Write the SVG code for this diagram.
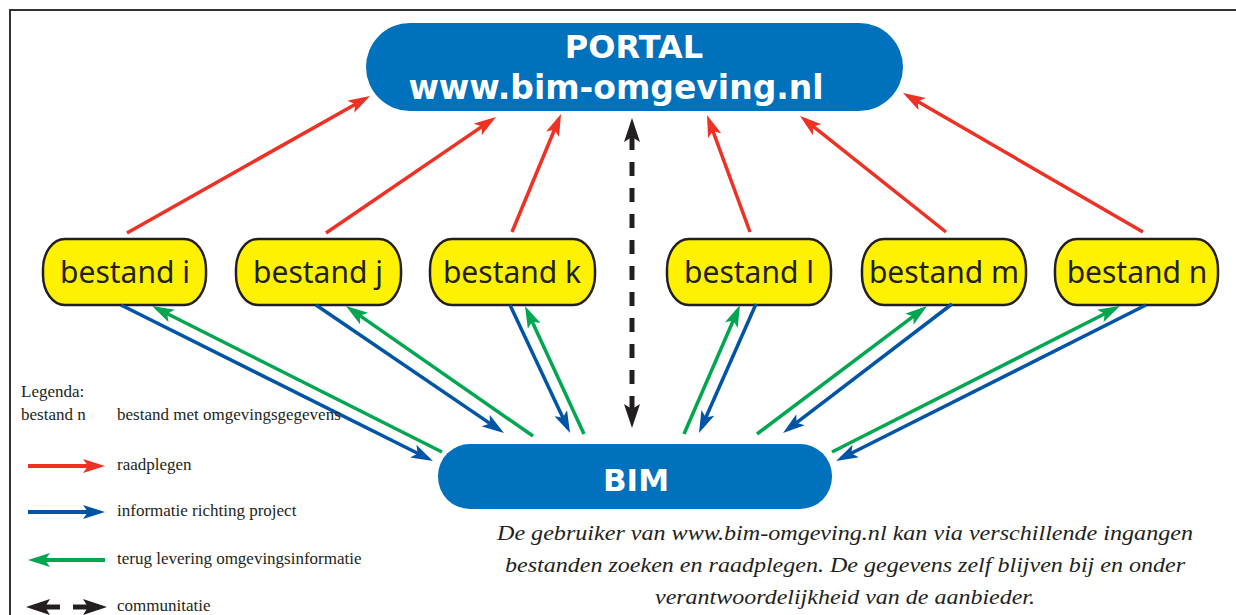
<svg xmlns="http://www.w3.org/2000/svg" width="1236" height="615" viewBox="0 0 1236 615">
<style>
.frame{fill:none;stroke:#333;stroke-width:2}
.pill{fill:#0071bc}
.ptxt{fill:#fff;font-family:"DejaVu Sans",sans-serif;font-weight:bold;text-anchor:middle}
.bnode{fill:#fff200;stroke:#231f20;stroke-width:2.5}
.btxt{fill:#231f20;font-family:"Noto Sans",sans-serif;font-size:30px;text-anchor:middle}
.red{stroke:#ee3124;stroke-width:3.5;fill:none;marker-end:url(#hr)}
.blue{stroke:#0054a6;stroke-width:3.5;fill:none;marker-end:url(#hb)}
.green{stroke:#00a650;stroke-width:3.5;fill:none;marker-end:url(#hg)}
.black{stroke:#231f20;stroke-width:5;fill:none}
.leg{font-family:"Liberation Serif",serif;font-size:17px;fill:#231f20}
.cap{font-family:"Liberation Serif",serif;font-style:italic;font-size:22px;fill:#231f20;text-anchor:middle}
</style>
<defs>
<marker id="hr" markerUnits="userSpaceOnUse" viewBox="0 0 22 14" markerWidth="22" markerHeight="14" refX="16" refY="7" orient="auto"><path d="M0,0 L22,7 L0,14 L5,7 z" fill="#ee3124"/></marker>
<marker id="hb" markerUnits="userSpaceOnUse" viewBox="0 0 22 14" markerWidth="22" markerHeight="14" refX="16" refY="7" orient="auto"><path d="M0,0 L22,7 L0,14 L5,7 z" fill="#0054a6"/></marker>
<marker id="hg" markerUnits="userSpaceOnUse" viewBox="0 0 22 14" markerWidth="22" markerHeight="14" refX="16" refY="7" orient="auto"><path d="M0,0 L22,7 L0,14 L5,7 z" fill="#00a650"/></marker>
<marker id="hk" markerUnits="userSpaceOnUse" viewBox="0 0 24 16" markerWidth="24" markerHeight="16" refX="16" refY="8" orient="auto"><path d="M0,0 L24,8 L0,16 L5,8 z" fill="#231f20"/></marker>
<marker id="hks" markerUnits="userSpaceOnUse" viewBox="0 0 24 16" markerWidth="24" markerHeight="16" refX="8" refY="8" orient="auto"><path d="M24,0 L0,8 L24,16 L19,8 z" fill="#231f20"/></marker>
</defs>
<rect class="frame" x="10" y="10" width="1240" height="620"/>

<g id="portal">
<rect class="pill" x="366" y="23" width="537" height="88" rx="44" ry="44"/>
<text class="ptxt" x="634" y="58" font-size="32">PORTAL</text>
<text class="ptxt" x="616" y="99" font-size="33">www.bim-omgeving.nl</text>
</g>

<g id="bim">
<rect class="pill" x="438" y="444" width="394" height="65" rx="32" ry="32"/>
<text class="ptxt" x="636" y="491" font-size="31">BIM</text>
</g>

<g id="bestand-i"><rect class="bnode" x="43" y="239" width="163" height="66" rx="22" ry="30"/><text class="btxt" x="125" y="283">bestand i</text></g>
<g id="bestand-j"><rect class="bnode" x="236" y="239" width="165" height="66" rx="22" ry="30"/><text class="btxt" x="318" y="283">bestand j</text></g>
<g id="bestand-k"><rect class="bnode" x="430" y="239" width="165" height="66" rx="22" ry="30"/><text class="btxt" x="512" y="283">bestand k</text></g>
<g id="bestand-l"><rect class="bnode" x="667" y="239" width="164" height="66" rx="22" ry="30"/><text class="btxt" x="749" y="283">bestand l</text></g>
<g id="bestand-m"><rect class="bnode" x="862" y="239" width="164" height="66" rx="22" ry="30"/><text class="btxt" x="944" y="283">bestand m</text></g>
<g id="bestand-n"><rect class="bnode" x="1055" y="239" width="163" height="66" rx="22" ry="30"/><text class="btxt" x="1137" y="283">bestand n</text></g>

<g id="connectors">
<line class="red" x1="127" y1="233" x2="364.8" y2="98.9"/>
<line class="red" x1="326" y1="233" x2="491" y2="120.4"/>
<line class="red" x1="512" y1="232" x2="558.7" y2="119.5"/>
<line class="red" x1="750" y1="232" x2="709.1" y2="120.6"/>
<line class="red" x1="946" y1="232" x2="804.7" y2="119.7"/>
<line class="red" x1="1143" y1="232" x2="908.2" y2="96"/>

<line class="blue" x1="121" y1="305" x2="427.6" y2="458.3"/>
<line class="blue" x1="316" y1="305" x2="499" y2="429.6"/>
<line class="blue" x1="510" y1="305" x2="567.5" y2="427.6"/>
<line class="blue" x1="756" y1="304" x2="701.4" y2="427.5"/>
<line class="blue" x1="952" y1="304" x2="787.8" y2="429.4"/>
<line class="blue" x1="1146" y1="305" x2="841.4" y2="458.3"/>

<line class="green" x1="442" y1="452" x2="157.4" y2="308.7"/>
<line class="green" x1="533" y1="436" x2="350.9" y2="309.4"/>
<line class="green" x1="584" y1="434" x2="527.5" y2="311.4"/>
<line class="green" x1="684" y1="434" x2="737.6" y2="310.5"/>
<line class="green" x1="757" y1="434" x2="922.2" y2="309.6"/>
<line class="green" x1="832" y1="452" x2="1114.6" y2="308.7"/>

<line class="black" x1="632" y1="126" x2="632" y2="420" stroke-dasharray="14 12" stroke-dashoffset="-10" marker-start="url(#hks)" marker-end="url(#hk)"/>
</g>

<g id="legend">
<text class="leg" x="21" y="397">Legenda:</text>
<text class="leg" x="21" y="420">bestand n</text>
<text class="leg" x="117" y="420">bestand met omgevingsgegevens</text>
<line class="red" x1="28" y1="466" x2="99" y2="466" style="stroke-width:4"/>
<text class="leg" x="117" y="470">raadplegen</text>
<line class="blue" x1="28" y1="512" x2="99" y2="512" style="stroke-width:4"/>
<text class="leg" x="117" y="516">informatie richting project</text>
<line class="green" x1="105" y1="560" x2="34" y2="560" style="stroke-width:4"/>
<text class="leg" x="117" y="564">terug levering omgevingsinformatie</text>
<line class="black" x1="60" y1="607" x2="34" y2="607" marker-end="url(#hk)"/>
<line class="black" x1="73" y1="607" x2="99" y2="607" marker-end="url(#hk)"/>
<text class="leg" x="117" y="611">communitatie</text>
</g>

<g id="caption">
<text class="cap" x="845" y="540" textLength="696" lengthAdjust="spacingAndGlyphs">De gebruiker van www.bim-omgeving.nl kan via verschillende ingangen</text>
<text class="cap" x="845" y="572" textLength="680" lengthAdjust="spacingAndGlyphs">bestanden zoeken en raadplegen. De gegevens zelf blijven bij en onder</text>
<text class="cap" x="845" y="604" textLength="380" lengthAdjust="spacingAndGlyphs">verantwoordelijkheid van de aanbieder.</text>
</g>
</svg>
